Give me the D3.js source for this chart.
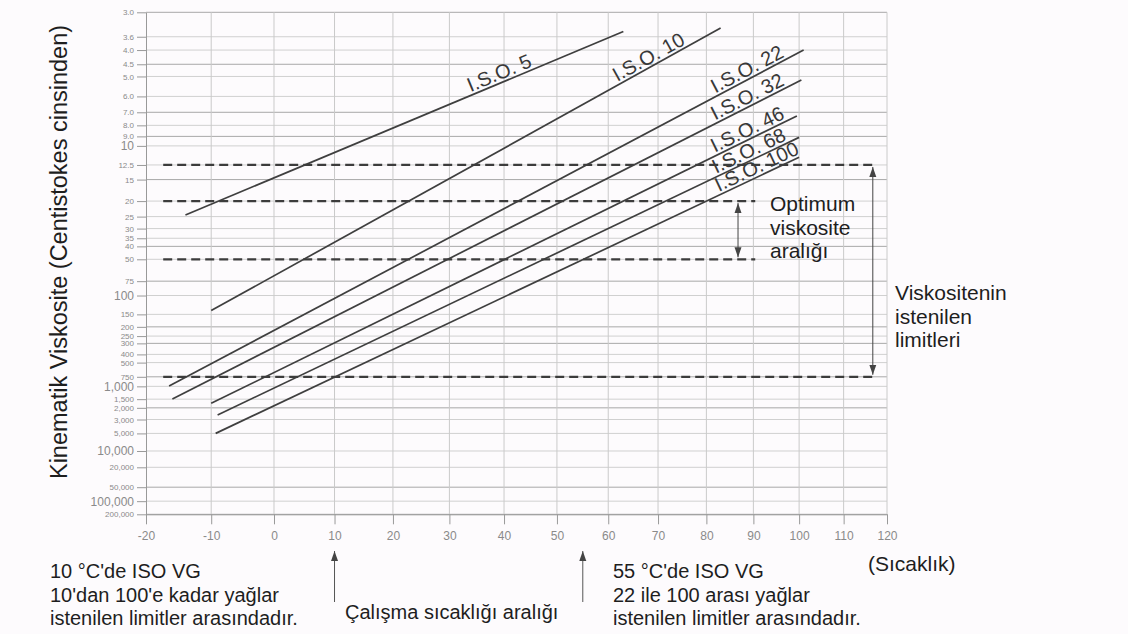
<!DOCTYPE html>
<html>
<head>
<meta charset="utf-8">
<script src="https://cdn.jsdelivr.net/npm/d3@7"></script>
<style>
  body { margin: 0; background: #fdfbfd; }
  svg { display: block; font-family: "Liberation Sans", Arial, sans-serif; }
</style>
</head>
<body>
<svg id="chart" width="1128" height="634"></svg>
<script>
// temperature axis (°C)
const tempTicks = [-20, -10, 0, 10, 20, 30, 40, 50, 60, 70, 80, 90, 100, 110, 120];

// viscosity axis (cSt), ASTM style scale
const viscTicks = [3.0, 3.6, 4.0, 4.5, 5.0, 6.0, 7.0, 8.0, 9.0, 10, 12.5, 15, 20, 25, 30, 35, 40, 50, 75,
  100, 150, 200, 250, 300, 400, 500, 750, 1000, 1500, 2000, 3000, 5000, 10000, 20000, 50000, 100000, 200000];
const viscLabels = ["3.0", "3.6", "4.0", "4.5", "5.0", "6.0", "7.0", "8.0", "9.0", "10", "12.5", "15", "20", "25",
  "30", "35", "40", "50", "75", "100", "150", "200", "250", "300", "400", "500", "750", "1,000", "1,500", "2,000",
  "3,000", "5,000", "10,000", "20,000", "50,000", "100,000", "200,000"];
const viscBigLabels = [10, 100, 1000, 10000, 100000];
const viscDarkGrid = [3.0, 4.5, 7.0, 9.0, 15, 40, 75, 200, 300, 750, 2000, 50000, 200000];

// ISO VG lines, end points
const isoNames = ["I.S.O. 5", "I.S.O. 10", "I.S.O. 22", "I.S.O. 32", "I.S.O. 46", "I.S.O. 68", "I.S.O. 100"];
const isoStartTemp = [-14, -10, -16.5, -16, -10, -9, -9.3];
const isoStartVisc = [24.4, 138, 990, 1490, 1720, 2560, 4990];
const isoEndTemp = [63, 83, 101, 100.5, 99.5, 100, 100];
const isoEndVisc = [3.46, 3.37, 4.0, 5.16, 7.26, 9.1, 11.4];
const isoLabelTemp = [39.8, 69, 89.6, 89.6, 89.6, 89.9, 91.6];

// dashed limit lines
const limitVisc = [12.5, 20, 50, 750];
const limitFromTemp = [-17.4, -17.4, -17.4, -17.4];
const limitToTemp = [117.2, 90.4, 90.4, 117.2];

// double arrows between limits
const arrowTemp = [116.7, 86.7];
const arrowTopVisc = [12.5, 20];
const arrowBottomVisc = [750, 50];

// working temperature arrows
const workTemps = [10, 55];

const svg = d3.select("#chart");

const astm = v => Math.log10(Math.log10(v + 0.7));

// x: log of absolute temperature
const xK = d3.scaleLog().domain([253.15, 393.15]).range([146, 887]);
const x = t => xK(t + 273.15);
const y = d3.scaleLinear().domain([astm(3), astm(200000)]).range([12.3, 514.3]);
const yv = v => y(astm(v));

// grid
svg.append("g").selectAll("line").data(viscTicks).join("line")
  .attr("x1", x(-20)).attr("x2", x(120))
  .attr("y1", d => yv(d)).attr("y2", d => yv(d))
  .attr("stroke", d => viscDarkGrid.includes(d) ? "#a8a8a8" : "#d0d0d0")
  .attr("stroke-width", 1);

svg.append("g").selectAll("line").data(tempTicks.slice(1)).join("line")
  .attr("x1", d => x(d)).attr("x2", d => x(d))
  .attr("y1", yv(3)).attr("y2", yv(200000))
  .attr("stroke", "#cacaca").attr("stroke-width", 1);

// axes
const xAxis = svg.append("g")
  .attr("transform", `translate(0,${yv(200000)})`)
  .call(d3.axisBottom(xK)
    .tickValues(tempTicks.map(t => t + 273.15))
    .tickFormat((d, i) => tempTicks[i])
    .tickSize(10).tickSizeOuter(0).tickPadding(7));
xAxis.select(".domain").attr("stroke", "#999");
xAxis.selectAll(".tick line").attr("stroke", "#999");
xAxis.selectAll(".tick text").attr("fill", "#8a8a8a").style("font-size", "12px");

const yAxis = svg.append("g")
  .attr("transform", `translate(${x(-20)},0)`)
  .call(d3.axisLeft(y)
    .tickValues(viscTicks.map(astm))
    .tickFormat((d, i) => viscLabels[i])
    .tickSize(9).tickSizeOuter(0).tickPadding(3));
yAxis.select(".domain").attr("stroke", "#999");
yAxis.selectAll(".tick line").attr("stroke", "#999");
yAxis.selectAll(".tick text")
  .attr("fill", "#8a8a8a")
  .style("font-size", (d, i) => viscBigLabels.includes(viscTicks[i]) ? "12px" : "8px");

// ISO VG lines
const isoG = svg.append("g");
isoNames.forEach((name, i) => {
  const x0 = x(isoStartTemp[i]), y0 = yv(isoStartVisc[i]);
  const x1 = x(isoEndTemp[i]), y1 = yv(isoEndVisc[i]);
  isoG.append("line")
    .attr("x1", x0).attr("y1", y0).attr("x2", x1).attr("y2", y1)
    .attr("stroke", "#3f3f3f").attr("stroke-width", 1.7);

  const lx = x(isoLabelTemp[i]);
  const f = (lx - x0) / (x1 - x0);
  const ly = y0 + f * (y1 - y0);
  const ang = Math.atan2(y1 - y0, x1 - x0) * 180 / Math.PI;
  isoG.append("text")
    .attr("transform", `translate(${lx},${ly}) rotate(${ang})`)
    .attr("dy", -3)
    .attr("text-anchor", "middle")
    .attr("fill", "#383838")
    .style("font-size", "20px")
    .text(name);
});

// dashed limit lines
svg.append("g").selectAll("line").data(limitVisc).join("line")
  .attr("x1", (d, i) => x(limitFromTemp[i]))
  .attr("x2", (d, i) => x(limitToTemp[i]))
  .attr("y1", d => yv(d)).attr("y2", d => yv(d))
  .attr("stroke", "#3c3c3c").attr("stroke-width", 2.2)
  .attr("stroke-dasharray", "9,5");

// arrow heads
const defs = svg.append("defs");
defs.append("marker")
  .attr("id", "head")
  .attr("viewBox", "0 0 10 10")
  .attr("refX", 10).attr("refY", 5)
  .attr("markerWidth", 10).attr("markerHeight", 10)
  .attr("markerUnits", "userSpaceOnUse")
  .attr("orient", "auto-start-reverse")
  .append("path").attr("d", "M0,1.5 L10,5 L0,8.5 Z").attr("fill", "#444");

svg.append("g").selectAll("line").data(arrowTemp).join("line")
  .attr("x1", d => x(d)).attr("x2", d => x(d))
  .attr("y1", (d, i) => yv(arrowTopVisc[i]) + 2)
  .attr("y2", (d, i) => yv(arrowBottomVisc[i]) - 2)
  .attr("stroke", "#444").attr("stroke-width", 1)
  .attr("marker-start", "url(#head)")
  .attr("marker-end", "url(#head)");

svg.append("g").selectAll("line").data(workTemps).join("line")
  .attr("x1", d => x(d)).attr("x2", d => x(d))
  .attr("y1", 602).attr("y2", 551)
  .attr("stroke", "#555").attr("stroke-width", 1)
  .attr("marker-end", "url(#head)");

// texts
const txt = (tx, ty, s, size) => svg.append("text")
  .attr("x", tx).attr("y", ty).attr("fill", "#1e1e1e")
  .style("font-size", size + "px").text(s);

svg.append("text")
  .attr("transform", "translate(67,252) rotate(-90)")
  .attr("text-anchor", "middle")
  .attr("fill", "#1e1e1e")
  .style("font-size", "23.5px")
  .text("Kinematik Viskosite (Centistokes cinsinden)");

txt(770, 211, "Optimum", 21);
txt(770, 235, "viskosite", 21);
txt(770, 258, "aralığı", 21);

txt(895, 300, "Viskositenin", 21);
txt(895, 324, "istenilen", 21);
txt(895, 347, "limitleri", 21);

txt(868, 571, "(Sıcaklık)", 21);

txt(50, 578, "10 °C'de ISO VG", 20);
txt(50, 602, "10'dan 100'e kadar yağlar", 20);
txt(50, 625, "istenilen limitler arasındadır.", 20);

txt(345, 619, "Çalışma sıcaklığı aralığı", 20);

txt(613, 578, "55 °C'de ISO VG", 20);
txt(613, 602, "22 ile 100 arası yağlar", 20);
txt(613, 625, "istenilen limitler arasındadır.", 20);
</script>
</body>
</html>
